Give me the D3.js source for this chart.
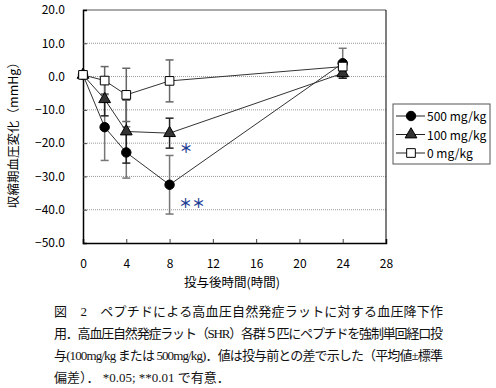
<!DOCTYPE html>
<html>
<head>
<meta charset="utf-8">
<script src="https://cdn.jsdelivr.net/npm/d3@7.9.0/dist/d3.min.js"></script>
<style>
  body { margin: 0; background: #fff; }
  text { font-family: "Noto Sans CJK JP", "DejaVu Sans", sans-serif; }
</style>
</head>
<body>
<svg id="chart" width="496" height="388"></svg>
<script>
// hours after dosing
const hours = [0, 2, 4, 8, 24];
// mean change in systolic pressure (mmHg) and SD, per dose
const dose500 = [0.5, -15.2, -22.8, -32.5, 4.0];
const sd500 = [0, 10, 7.7, 8.8, 4.5];
const dose100 = [0.5, -6.8, -16.5, -17.0, 1.0];
const sd100 = [0, 5, 9.5, 4.5, 1.5];
const dose0 = [0.5, -1.2, -5.5, -1.3, 3.0];
const sd0 = [0, 4.2, 8, 6.3, 1.5];

const yTicks = [20, 10, 0, -10, -20, -30, -40, -50];
const xTicks = [0, 4, 8, 12, 16, 20, 24, 28];
const legendLabels = ['500 mg/kg', '100 mg/kg', '0 mg/kg'];

const caption = [
  '図　2　ペプチドによる高血圧自然発症ラットに対する血圧降下作',
  '用．高血圧自然発症ラット（SHR）各群５匹にペプチドを強制単回経口投',
  '与(100mg/kg または 500mg/kg)．値は投与前との差で示した（平均値±標準',
  '偏差）．  *0.05; **0.01 で有意．'
];

const svg = d3.select('#chart');
const pLeft = 83, pRight = 386, pTop = 10, pBottom = 243;

const x = d3.scaleLinear().domain([0, 28]).range([pLeft, pRight]);
const y = d3.scaleLinear().domain([-50, 20]).range([pBottom, pTop]);

// grid
svg.append('g').selectAll('line')
  .data(yTicks.filter(d => d > -50 && d < 20))
  .join('line')
  .attr('x1', pLeft).attr('x2', pRight)
  .attr('y1', d => y(d)).attr('y2', d => y(d))
  .attr('stroke', '#999').attr('stroke-dasharray', '1,1');

// frame
svg.append('line').attr('x1', pLeft).attr('x2', pRight).attr('y1', pTop).attr('y2', pTop)
  .attr('stroke', '#555');
svg.append('line').attr('x1', pRight).attr('x2', pRight).attr('y1', pTop).attr('y2', pBottom)
  .attr('stroke', '#000');

// axes with inward ticks
const yAxis = d3.axisLeft(y).tickValues(yTicks).tickSize(-4).tickPadding(18)
  .tickFormat(d3.format('.1f'));
const gy = svg.append('g').attr('transform', `translate(${pLeft},0)`).call(yAxis);
const xAxis = d3.axisBottom(x).tickValues(xTicks).tickSize(-4).tickPadding(16);
const gx = svg.append('g').attr('transform', `translate(0,${pBottom})`).call(xAxis);
[gx, gy].forEach(g => {
  g.select('.domain').attr('stroke', '#000').attr('stroke-width', 1.5);
  g.selectAll('.tick line').attr('stroke', '#444');
  g.selectAll('text').attr('font-size', 12).attr('fill', '#000');
});
gx.selectAll('.tick').filter(d => d === 0 || d === 28).select('line').remove();
gy.selectAll('.tick').filter(d => d === 20 || d === -50).select('line').remove();

// axis titles
svg.append('text').attr('x', 232).attr('y', 287).attr('text-anchor', 'middle')
  .attr('font-size', 12.5).text('投与後時間(時間)');
svg.append('text').attr('transform', 'translate(18,132) rotate(-90)')
  .attr('text-anchor', 'middle').attr('font-size', 12.5).text('収縮期血圧変化（mmHg）');

const series = [
  { vals: dose500, sd: sd500, shape: d3.symbolCircle, size: 70, fill: '#000', bar: '#777' },
  { vals: dose100, sd: sd100, shape: d3.symbolTriangle, size: 60, fill: '#333', bar: '#222' },
  { vals: dose0, sd: sd0, shape: d3.symbolSquare, size: 75, fill: '#fff', bar: '#666' }
];

const line = d3.line().x((d, i) => x(hours[i])).y(d => y(d));

// error bars
series.forEach(s => {
  const g = svg.append('g');
  hours.forEach((h, i) => {
    if (!s.sd[i]) return;
    const y1 = y(s.vals[i] + s.sd[i]), y2 = y(s.vals[i] - s.sd[i]);
    g.append('line').attr('x1', x(h)).attr('x2', x(h)).attr('y1', y1).attr('y2', y2)
      .attr('stroke', s.bar).attr('stroke-width', 1.5);
    [y1, y2].forEach(yy => g.append('line')
      .attr('x1', x(h) - 4).attr('x2', x(h) + 4).attr('y1', yy).attr('y2', yy)
      .attr('stroke', s.bar).attr('stroke-width', 1.5));
  });
});

// lines
series.forEach(s => {
  svg.append('path').attr('d', line(s.vals)).attr('fill', 'none')
    .attr('stroke', '#333').attr('stroke-width', 1);
});

// markers
series.forEach(s => {
  svg.append('g').selectAll('path').data(s.vals).join('path')
    .attr('transform', (d, i) => `translate(${x(hours[i])},${y(d)})`)
    .attr('d', d3.symbol().type(s.shape).size(s.size))
    .attr('fill', s.fill).attr('stroke', '#000').attr('stroke-width', 1);
});

// significance marks
svg.append('text').attr('x', 186).attr('y', 153).attr('text-anchor', 'middle')
  .attr('font-size', 13).attr('fill', '#1f3f95').attr('font-weight', 'bold').text('＊');
svg.append('text').attr('x', 192).attr('y', 208).attr('text-anchor', 'middle')
  .attr('font-size', 13).attr('fill', '#1f3f95').attr('font-weight', 'bold').text('＊＊');

// legend
const lg = svg.append('g').attr('transform', 'translate(393,104)');
lg.append('rect').attr('width', 97).attr('height', 60).attr('fill', '#fff')
  .attr('stroke', '#555').attr('stroke-width', 1);
series.forEach((s, i) => {
  const yy = 12 + i * 18.5;
  lg.append('line').attr('x1', 3).attr('x2', 32).attr('y1', yy).attr('y2', yy)
    .attr('stroke', '#222');
  lg.append('path').attr('transform', `translate(18,${yy})`)
    .attr('d', d3.symbol().type(s.shape).size(s.size))
    .attr('fill', s.fill).attr('stroke', '#000');
  lg.append('text').attr('x', 34).attr('y', yy + 5).attr('font-size', 12)
    .text(legendLabels[i]);
});

// caption
caption.forEach((t, i) => {
  const tx = svg.append('text').attr('x', 54).attr('y', 316 + i * 22)
    .attr('font-size', 13).attr('fill', '#111')
    .style('font-family', '"Liberation Serif", "Noto Sans CJK JP", serif')
    .text(t);
  if (i < 3) tx.attr('textLength', 389).attr('lengthAdjust', 'spacing');
});
</script>
</body>
</html>
